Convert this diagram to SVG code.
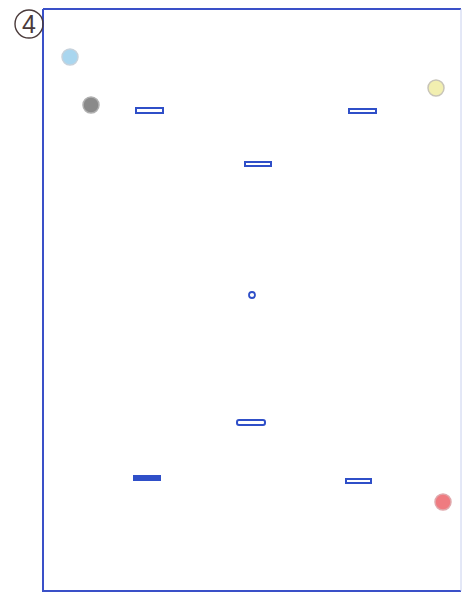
<svg xmlns="http://www.w3.org/2000/svg" width="464" height="592" viewBox="0 0 464 592">
<style>
.bar{fill:#ffffff;stroke:#2f4fc8;stroke-width:2}
.barf{fill:#2f4fc8;stroke:#2f4fc8;stroke-width:2}
.dot{stroke-width:1.5}
</style>
<rect x="0" y="0" width="464" height="592" fill="#ffffff"/>
<g id="frame">
<path d="M43,9 L461,9 M43,9 L43,591 L461,591" fill="none" stroke="#3a50c8" stroke-width="2"/>
<path d="M461,9 L461,591" fill="none" stroke="#c8d0ee" stroke-width="1"/>
</g>
<g id="label">
<circle cx="29" cy="24" r="14" fill="none" stroke="#4a3a3a" stroke-width="1.4"/>
<text x="29" y="33" font-family="Liberation Sans, sans-serif" font-size="25" fill="#4a3a3a" text-anchor="middle">4</text>
</g>
<g id="dot-blue"><circle class="dot" cx="70" cy="57" r="8" fill="#a9d6ef" stroke="#c6d2dc"/></g>
<g id="dot-grey"><circle class="dot" cx="91" cy="105" r="8" fill="#8a8a8a" stroke="#b0b0b0"/></g>
<g id="dot-yellow"><circle class="dot" cx="436" cy="88" r="8" fill="#f2efb0" stroke="#c8c4b8"/></g>
<g id="dot-red"><circle class="dot" cx="443" cy="502" r="8" fill="#ef7b80" stroke="#e0a8ac"/></g>
<g id="bar1"><rect class="bar" x="136" y="108" width="27" height="5"/></g>
<g id="bar2"><rect class="bar" x="349" y="109" width="27" height="4"/></g>
<g id="bar3"><rect class="bar" x="245" y="162" width="26" height="4"/></g>
<g id="ring"><circle cx="252" cy="295" r="3" fill="none" stroke="#2f4fc8" stroke-width="1.8"/></g>
<g id="bar4"><rect class="bar" x="237" y="420" width="28" height="5" rx="2"/></g>
<g id="bar5"><rect class="barf" x="134" y="476" width="26" height="4"/></g>
<g id="bar6"><rect class="bar" x="346" y="479" width="25" height="4"/></g>
</svg>
